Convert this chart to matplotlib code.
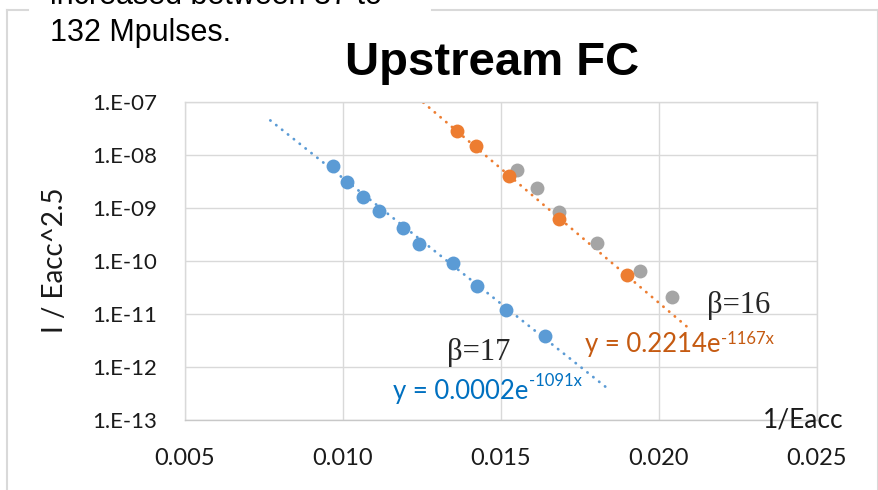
import numpy as np
import matplotlib
matplotlib.use("Agg")
import matplotlib.pyplot as plt
from matplotlib.lines import Line2D

plt.rcParams["font.family"] = ["Lato", "DejaVu Sans"]

# measured points: x = 1/Eacc, y = I / Eacc^2.5
blue_x = [0.00969, 0.01012, 0.01062, 0.01115, 0.01189, 0.01242, 0.01347, 0.01425, 0.01515, 0.01639]
blue_y = [6.3e-9, 3.1e-9, 1.64e-9, 8.8e-10, 4.25e-10, 2.1e-10, 9.3e-11, 3.4e-11, 1.19e-11, 3.85e-12]

orange_x = [0.01362, 0.01421, 0.01526, 0.01682, 0.01900]
orange_y = [2.88e-8, 1.5e-8, 4.0e-9, 6.1e-10, 5.4e-11]

gray_x = [0.01550, 0.01613, 0.01685, 0.01803, 0.01940, 0.02042]
gray_y = [5.2e-9, 2.42e-9, 8.5e-10, 2.2e-10, 6.6e-11, 2.1e-11]

# exponential fits y = a * exp(b * x)
blue_fit = (0.0002, -1091)
orange_fit = (0.2214, -1167)
blue_fit_span = [0.0077, 0.0184]
orange_fit_span = [0.0120, 0.0209]

x_ticks = [0.005, 0.010, 0.015, 0.020, 0.025]
y_ticks = [1e-13, 1e-12, 1e-11, 1e-10, 1e-9, 1e-8, 1e-7]
y_tick_labels = ["1.E-13", "1.E-12", "1.E-11", "1.E-10", "1.E-09", "1.E-08", "1.E-07"]

BLUE = "#5B9BD5"
ORANGE = "#ED7D31"
GRAY = "#A5A5A5"
GRID = "#D9D9D9"
INK = "#1a1a1a"

W, H = 879, 490
fig = plt.figure(figsize=(W / 100, H / 100), dpi=100)


def fx(px):
    return px / W


def fy(py):
    return 1 - py / H


ax = fig.add_axes([fx(185), fy(420), fx(817) - fx(185), fy(102) - fy(420)])
ax.set_yscale("log")
ax.set_xlim(0.005, 0.025)
ax.set_ylim(1e-13, 1e-7)
ax.set_xticks(x_ticks)
ax.set_xticklabels([f"{t:.3f}" for t in x_ticks])
ax.set_yticks(y_ticks)
ax.set_yticklabels(y_tick_labels)
ax.yaxis.set_minor_locator(matplotlib.ticker.NullLocator())
ax.tick_params(length=0, colors=INK)
ax.tick_params(axis="x", labelsize=17, pad=20)
ax.tick_params(axis="y", labelsize=16, pad=20)
ax.grid(True, color=GRID, lw=1)
ax.set_axisbelow(True)
for sp in ax.spines.values():
    sp.set_color(GRID)
    sp.set_linewidth(1)
ax.spines["bottom"].set_color("#C8C8C8")

fig.text(fx(55), fy(260), "I / Eacc^2.5", fontsize=20, color=INK, rotation=90,
         ha="center", va="center")

# trendlines
for (a, b), span, col in [(blue_fit, blue_fit_span, BLUE), (orange_fit, orange_fit_span, ORANGE)]:
    xs = np.linspace(span[0], span[1], 200)
    ax.plot(xs, a * np.exp(b * xs), color=col, lw=2.0, linestyle=(0, (0.1, 2.6)),
            dash_capstyle="round", zorder=2)

ax.plot(gray_x, gray_y, "o", color=GRAY, ms=10, mew=0, zorder=3)
ax.plot(orange_x, orange_y, "o", color=ORANGE, ms=10, mew=0, zorder=4)
ax.plot(blue_x, blue_y, "o", color=BLUE, ms=10, mew=0, zorder=4)

renderer = fig.canvas.get_renderer()


def equation(px, py, base, power, color, rise):
    t = fig.text(fx(px), fy(py), base, color=color, fontsize=18.5, va="baseline")
    x1 = t.get_window_extent(renderer).x1
    fig.text(x1 / W + fx(1), fy(py - rise), power, color=color, fontsize=12, va="baseline")


equation(393, 399, "y = 0.0002e", "-1091x", "#0070C0", 13)
equation(585, 352, "y = 0.2214e", "-1167x", "#C55A11", 8)

serif = ["Liberation Serif", "DejaVu Serif"]
fig.text(fx(447), fy(360), "β=17", family=serif, fontsize=22, color="#262626", va="baseline")
fig.text(fx(707), fy(313), "β=16", family=serif, fontsize=22, color="#262626", va="baseline")
fig.text(fx(763), fy(427), "1/Eacc", fontsize=19, color=INK, va="baseline")

fig.text(fx(492), fy(75), "Upstream FC", family=["Liberation Sans", "DejaVu Sans"],
         fontsize=34, fontweight="bold", ha="center", va="baseline")

# outer chart border, broken where the note sits over it
frame = dict(color=GRID, lw=1.5, transform=fig.transFigure)
fig.add_artist(Line2D([fx(7), fx(7)], [fy(10), fy(H + 5)], **frame))
fig.add_artist(Line2D([fx(7), fx(28)], [fy(10), fy(10)], **frame))
fig.add_artist(Line2D([fx(432), fx(878)], [fy(10), fy(10)], **frame))
fig.add_artist(Line2D([fx(878), fx(878)], [fy(10), fy(H + 5)], **frame))

note = dict(family=["Liberation Sans", "DejaVu Sans"], fontsize=22, va="baseline", color="black")
fig.text(fx(50), fy(4), "increased between 37 to", **note)
fig.text(fx(50), fy(41), "132 Mpulses.", **note)

fig.savefig("out.png", dpi=100)
